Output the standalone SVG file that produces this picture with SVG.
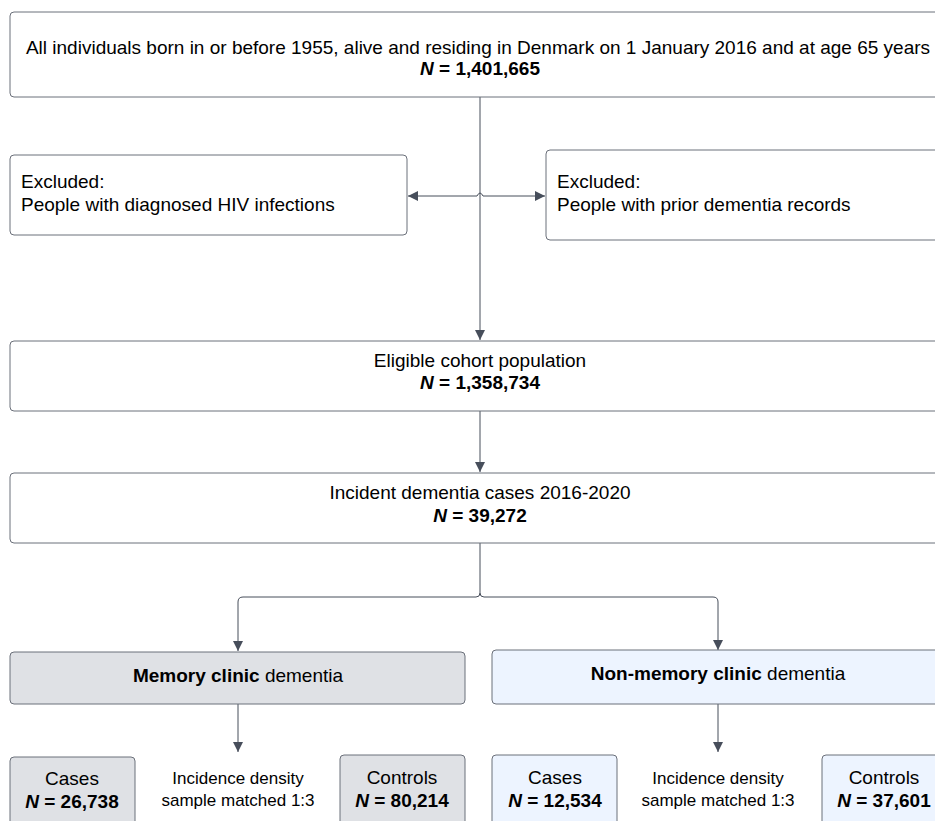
<svg xmlns="http://www.w3.org/2000/svg" width="935" height="821" viewBox="0 0 935 821">
<defs>
<style>
.box{fill:#ffffff;stroke:#6b707a;stroke-width:1;}
.grey{fill:#dfe1e5;stroke:#6b707a;stroke-width:1;}
.blue{fill:#edf4ff;stroke:#6b707a;stroke-width:1;}
text{font-family:"Liberation Sans",Arial,sans-serif;font-size:19px;fill:#000;}
.c{text-anchor:middle;}
.b{font-weight:bold;}
.i{font-style:italic;}
.s{font-size:17px;}
.con{fill:none;stroke:#474e5b;stroke-width:1;}
</style>
<marker id="ah" viewBox="0 0 10 10" refX="10" refY="5" markerWidth="10" markerHeight="10" markerUnits="userSpaceOnUse" orient="auto">
<path d="M0,0 L10,5 L0,10 Z" fill="#474e5b"/>
</marker>
</defs>
<rect width="935" height="821" fill="#ffffff"/>

<g id="connectors">
<path class="con" d="M480,97 V340" marker-end="url(#ah)"/>
<path class="con" d="M477,196 H408" marker-end="url(#ah)"/>
<path class="con" d="M483,196 H545" marker-end="url(#ah)"/>
<path class="con" d="M477,196 Q480,190 483,196"/>
<path class="con" d="M480,411 V472" marker-end="url(#ah)"/>
<path class="con" d="M480,543 V593 Q480,597 476,597 H243 Q238,597 238,602 V651" marker-end="url(#ah)"/>
<path class="con" d="M480,593 Q480,597 484,597 H713 Q718,597 718,602 V650" marker-end="url(#ah)"/>
<path class="con" d="M238,704 V752" marker-end="url(#ah)"/>
<path class="con" d="M718,704 V752" marker-end="url(#ah)"/>
</g>

<g id="n-all">
<rect class="box" x="10" y="12" width="940" height="85" rx="4"/>
<text class="c" x="478" y="54">All individuals born in or before 1955, alive and residing in Denmark on 1 January 2016 and at age 65 years</text>
<text class="c b" x="480" y="75"><tspan class="i">N</tspan> = 1,401,665</text>
</g>

<g id="n-excl-hiv">
<rect class="box" x="10" y="155" width="397" height="80" rx="4"/>
<text x="21" y="188">Excluded:</text>
<text x="21" y="211">People with diagnosed HIV infections</text>
</g>

<g id="n-excl-dem">
<rect class="box" x="546" y="150" width="400" height="90" rx="4"/>
<text x="557" y="188">Excluded:</text>
<text x="557" y="211">People with prior dementia records</text>
</g>

<g id="n-eligible">
<rect class="box" x="10" y="341" width="940" height="70" rx="4"/>
<text class="c" x="480" y="367">Eligible cohort population</text>
<text class="c b" x="480" y="389"><tspan class="i">N</tspan> = 1,358,734</text>
</g>

<g id="n-incident">
<rect class="box" x="10" y="473" width="940" height="70" rx="4"/>
<text class="c" x="480" y="499">Incident dementia cases 2016-2020</text>
<text class="c b" x="480" y="522"><tspan class="i">N</tspan> = 39,272</text>
</g>

<g id="n-memory">
<rect class="grey" x="10" y="652" width="455" height="52" rx="4"/>
<text class="c" x="238" y="682"><tspan class="b">Memory clinic</tspan> dementia</text>
</g>

<g id="n-nonmemory">
<rect class="blue" x="492" y="650" width="460" height="54" rx="4"/>
<text class="c" x="718" y="680"><tspan class="b">Non-memory clinic</tspan> dementia</text>
</g>

<g id="n-cases-mem">
<rect class="grey" x="10" y="757" width="125" height="80" rx="4"/>
<text class="c" x="72" y="785">Cases</text>
<text class="c b" x="72" y="808"><tspan class="i">N</tspan> = 26,738</text>
</g>

<g id="n-match-mem">
<text class="c s" x="238" y="784">Incidence density</text>
<text class="c s" x="238" y="806">sample matched 1:3</text>
</g>

<g id="n-controls-mem">
<rect class="grey" x="340" y="755" width="125" height="80" rx="4"/>
<text class="c" x="402" y="784">Controls</text>
<text class="c b" x="402" y="807"><tspan class="i">N</tspan> = 80,214</text>
</g>

<g id="n-cases-non">
<rect class="blue" x="492" y="755" width="125" height="80" rx="4"/>
<text class="c" x="555" y="784">Cases</text>
<text class="c b" x="555" y="807"><tspan class="i">N</tspan> = 12,534</text>
</g>

<g id="n-match-non">
<text class="c s" x="718" y="784">Incidence density</text>
<text class="c s" x="718" y="806">sample matched 1:3</text>
</g>

<g id="n-controls-non">
<rect class="blue" x="822" y="755" width="125" height="80" rx="4"/>
<text class="c" x="884" y="784">Controls</text>
<text class="c b" x="884" y="807"><tspan class="i">N</tspan> = 37,601</text>
</g>
</svg>
